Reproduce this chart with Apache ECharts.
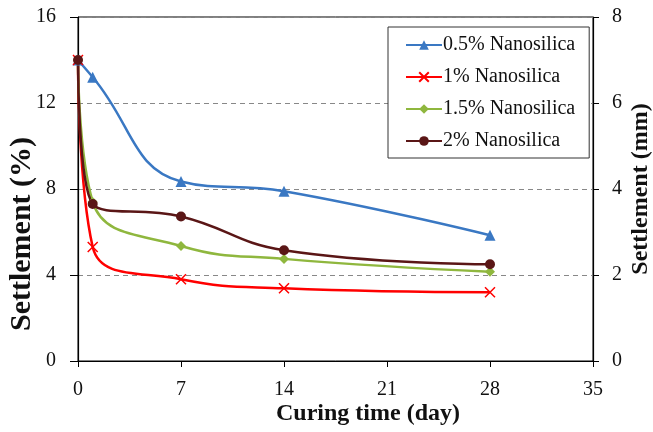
<!DOCTYPE html>
<html>
<head>
<meta charset="utf-8">
<script src="https://cdn.jsdelivr.net/npm/echarts@6/dist/echarts.min.js"></script>
<style>
  html, body { margin: 0; padding: 0; background: #fff; }
  #chart { width: 653px; height: 432px; }
</style>
</head>
<body>
<div id="chart"></div>
<script>
// Curing time (days) and settlement (%) for each nanosilica dosage
const curingDays = [0, 1, 7, 14, 28];
const ns05 = [14, 13.2, 8.35, 7.9, 5.85];
const ns1 = [14, 5.3, 3.8, 3.38, 3.2];
const ns15 = [14, 7.4, 5.35, 4.75, 4.15];
const ns2 = [14, 7.3, 6.72, 5.15, 4.5];
const seriesNames = ['0.5% Nanosilica', '1% Nanosilica', '1.5% Nanosilica', '2% Nanosilica'];
const xTicks = [0, 7, 14, 21, 28, 35];
const yTicksPct = [0, 4, 8, 12, 16];
const yTicksMm = [0, 2, 4, 6, 8];
const xTitle = 'Curing time (day)';
const yTitleLeft = 'Settlement (%)';
const yTitleRight = 'Settlement (mm)';

const serif = '"Liberation Serif", "Times New Roman", serif';
const pairs = v => curingDays.map((d, i) => [d, v[i]]);
const crossPath = 'path://M0,0L10,10M10,0L0,10';

function lineSeries(name, data, color, symbol, size, extra) {
  return Object.assign({
    name: name,
    type: 'line',
    data: pairs(data),
    smooth: 0.45,
    symbol: symbol,
    symbolSize: size,
    lineStyle: { color: color, width: 2.5 },
    itemStyle: { color: color },
    z: 3
  }, extra || {});
}

function titleText(text, x, y, size, rotation) {
  return {
    type: 'text', x: x, y: y, rotation: rotation || 0,
    style: {
      text: text, fontFamily: serif, fontSize: size, fontWeight: 'bold',
      fill: '#111', align: 'center', verticalAlign: 'middle'
    }
  };
}

const chart = echarts.init(document.getElementById('chart'), null, { renderer: 'canvas' });
chart.setOption({
  animation: false,
  backgroundColor: '#fff',
  textStyle: { fontFamily: serif },
  grid: {
    left: 78, right: 60, top: 17, bottom: 71,
    outerBoundsMode: 'none',
    show: true, borderColor: '#000', borderWidth: 1
  },
  legend: {
    orient: 'vertical',
    left: 388, top: 27,
    padding: [8, 14, 7, 17],
    itemGap: 12,
    itemWidth: 36, itemHeight: 12,
    backgroundColor: '#fff',
    borderColor: '#333', borderWidth: 1,
    textStyle: { fontFamily: serif, fontSize: 20, color: '#111', padding: [0, 0, 0, -4] },
    data: seriesNames
  },
  graphic: [
    titleText(xTitle, 368, 414, 24),
    titleText(yTitleLeft, 22, 234, 30, Math.PI / 2),
    titleText(yTitleRight, 641, 189, 24, Math.PI / 2)
  ],
  xAxis: {
    type: 'value', min: xTicks[0], max: xTicks[xTicks.length - 1], interval: 7,
    axisLine: { lineStyle: { color: '#000', width: 1.2 } },
    axisTick: { show: true, length: 6, lineStyle: { color: '#000' } },
    axisLabel: { fontFamily: serif, fontSize: 20, color: '#111', margin: 19 },
    splitLine: { show: false }
  },
  yAxis: [{
    type: 'value', min: yTicksPct[0], max: yTicksPct[yTicksPct.length - 1], interval: 4,
    axisLine: { show: true, lineStyle: { color: '#000', width: 1.2 } },
    axisTick: { show: true, length: 8, lineStyle: { color: '#000' } },
    axisLabel: { fontFamily: serif, fontSize: 20, color: '#111', margin: 22 },
    splitLine: { show: true, lineStyle: { color: '#888', type: [5, 4], width: 1 } }
  }, {
    type: 'value', position: 'right', min: yTicksMm[0], max: yTicksMm[yTicksMm.length - 1], interval: 2,
    axisLine: { show: true, lineStyle: { color: '#000', width: 1.2 } },
    axisTick: { show: true, length: 6, lineStyle: { color: '#000' } },
    axisLabel: { fontFamily: serif, fontSize: 20, color: '#111', margin: 19 },
    splitLine: { show: false }
  }],
  series: [
    lineSeries(seriesNames[0], ns05, '#3a78c3', 'triangle', 11),
    lineSeries(seriesNames[1], ns1, '#ff0000', crossPath, 10, {
      itemStyle: { color: 'none', borderColor: '#ff0000', borderWidth: 1.5 }
    }),
    lineSeries(seriesNames[2], ns15, '#8fb73e', 'diamond', 10),
    lineSeries(seriesNames[3], ns2, '#5a1616', 'circle', 10)
  ]
});
</script>
</body>
</html>
